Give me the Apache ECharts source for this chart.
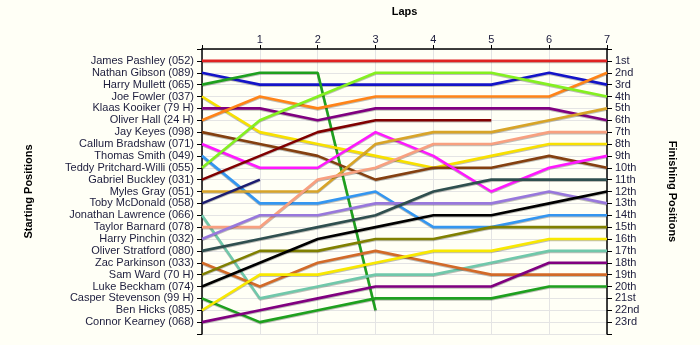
<!DOCTYPE html>
<html>
<head>
<meta charset="utf-8">
<script src="https://cdn.jsdelivr.net/npm/echarts@6/dist/echarts.min.js"></script>
<style>
  html, body { margin: 0; padding: 0; background: #fffff6; }
  #chart { width: 700px; height: 345px; }
</style>
</head>
<body>
<div id="chart"></div>
<script>
// Lap numbers shown along the top axis
const laps = [0, 1, 2, 3, 4, 5, 6, 7];
const lapLabels = ['', '1', '2', '3', '4', '5', '6', '7'];

// Drivers in starting-grid order
const drivers = [
  'James Pashley (052)', 'Nathan Gibson (089)', 'Harry Mullett (065)', 'Joe Fowler (037)',
  'Klaas Kooiker (79 H)', 'Oliver Hall (24 H)', 'Jay Keyes (098)', 'Callum Bradshaw (071)',
  'Thomas Smith (049)', 'Teddy Pritchard-Willi (055)', 'Gabriel Buckley (031)', 'Myles Gray (051)',
  'Toby McDonald (058)', 'Jonathan Lawrence (066)', 'Taylor Barnard (078)', 'Harry Pinchin (032)',
  'Oliver Stratford (080)', 'Zac Parkinson (033)', 'Sam Ward (70 H)', 'Luke Beckham (074)',
  'Casper Stevenson (99 H)', 'Ben Hicks (085)', 'Connor Kearney (068)'
];

// Finishing position labels on the right
const finishLabels = ['1st','2nd','3rd','4th','5th','6th','7th','8th','9th','10th','11th','12th',
  '13th','14th','15th','16th','17th','18th','19th','20th','21st','22nd','23rd'];

// Running position of each driver at the end of every lap (lap 0 = grid)
const pJamesPashley      = [1, 1, 1, 1, 1, 1, 1, 1];
const pNathanGibson      = [2, 3, 3, 3, 3, 3, 2, 3];
const pHarryMullett      = [3, 2, 2, 22];
const pJoeFowler         = [4, 7, 8, 9, 10, 9, 8, 8];
const pKlaasKooiker      = [5, 5, 6, 5, 5, 5, 5, 6];
const pOliverHall        = [6, 4, 5, 4, 4, 4, 4, 2];
const pJayKeyes          = [7, 8, 9, 11, 10, 10, 9, 10];
const pCallumBradshaw    = [8, 10, 10, 7, 9, 12, 10, 9];
const pThomasSmith       = [9, 13, 13, 12, 15, 15, 14, 14];
const pTeddyPritchard    = [10, 6, 4, 2, 2, 2, 3, 4];
const pGabrielBuckley    = [11, 9, 7, 6, 6, 6];
const pMylesGray         = [12, 12, 12, 8, 7, 7, 6, 5];
const pTobyMcDonald      = [13, 11];
const pJonathanLawrence  = [14, 21, 20, 19, 19, 18, 17, 17];
const pTaylorBarnard     = [15, 15, 11, 10, 8, 8, 7, 7];
const pHarryPinchin      = [16, 14, 14, 13, 13, 13, 12, 13];
const pOliverStratford   = [17, 16, 15, 14, 12, 11, 11, 11];
const pZacParkinson      = [18, 20, 18, 17, 18, 19, 19, 19];
const pSamWard           = [19, 17, 17, 16, 16, 15, 15, 15];
const pLukeBeckham       = [20, 18, 16, 15, 14, 14, 13, 12];
const pCasperStevenson   = [21, 23, 22, 21, 21, 21, 20, 20];
const pBenHicks          = [22, 19, 19, 18, 17, 17, 16, 16];
const pConnorKearney     = [23, 22, 21, 20, 20, 20, 18, 18];

const positions = [
  pJamesPashley, pNathanGibson, pHarryMullett, pJoeFowler, pKlaasKooiker, pOliverHall,
  pJayKeyes, pCallumBradshaw, pThomasSmith, pTeddyPritchard, pGabrielBuckley, pMylesGray,
  pTobyMcDonald, pJonathanLawrence, pTaylorBarnard, pHarryPinchin, pOliverStratford,
  pZacParkinson, pSamWard, pLukeBeckham, pCasperStevenson, pBenHicks, pConnorKearney
];

const colors = [
  '#e02222', '#1414c8', '#1ea01e', '#f8e000', '#800080', '#ff8418',
  '#844010', '#ff18ff', '#3496f0', '#84f020', '#800000', '#d8a428',
  '#1c1c70', '#70c8aa', '#f8a080', '#9878dc', '#2f4f4f',
  '#d26a28', '#808000', '#000000', '#1ea01e', '#f8e800', '#800080'
];

const labelColor = '#1c1c3c';
const font = 'Liberation Sans, Arial, sans-serif';

const series = drivers.map((name, i) => ({
  name: name,
  type: 'line',
  yAxisIndex: 0,
  data: positions[i].map((p, lap) => [laps[lap], p]),
  symbol: 'none',
  lineStyle: {
    color: colors[i], width: 2.6,
    shadowColor: 'rgba(0,0,0,0.25)', shadowOffsetY: 1, shadowBlur: 0
  },
  itemStyle: { color: colors[i] },
  silent: true,
  animation: false
}));

const chart = echarts.init(document.getElementById('chart'), null, { renderer: 'canvas' });
chart.setOption({
  backgroundColor: '#fffff6',
  animation: false,
  grid: { left: 202, right: 93, top: 49, bottom: 11, containLabel: false },
  xAxis: {
    type: 'value', position: 'top', min: 0, max: 7, interval: 1,
    name: 'Laps', nameLocation: 'middle', nameGap: 32,
    nameTextStyle: { fontFamily: font, fontSize: 11, fontWeight: 'bold', color: '#000' },
    axisLine: { lineStyle: { color: '#000', width: 1.5 } },
    axisTick: { show: true, length: 4, inside: false, lineStyle: { color: '#000' } },
    axisLabel: {
      margin: 4, fontFamily: font, fontSize: 11, color: labelColor,
      formatter: v => lapLabels[v] || ''
    },
    splitLine: { show: true, lineStyle: { color: '#e4e4e4', width: 1 } }
  },
  yAxis: [
    {
      type: 'value', position: 'left', inverse: true, min: 0, max: 24, interval: 1,
      name: 'Starting Positions', nameLocation: 'middle', nameGap: 168, nameRotate: 90,
      nameTextStyle: { fontFamily: font, fontSize: 11, fontWeight: 'bold', color: '#000' },
      axisLine: { lineStyle: { color: '#000', width: 1.5 } },
      axisTick: { show: true, length: 5, lineStyle: { color: '#000' } },
      axisLabel: {
        margin: 8, fontFamily: font, fontSize: 11, color: labelColor,
        formatter: v => drivers[v - 1] || ''
      },
      splitLine: { show: true, lineStyle: { color: '#e4e4e4', width: 1 } }
    },
    {
      type: 'value', position: 'right', inverse: true, min: 0, max: 24, interval: 1,
      name: 'Finishing Positions', nameLocation: 'middle', nameGap: 60, nameRotate: -90,
      nameTextStyle: { fontFamily: font, fontSize: 11, fontWeight: 'bold', color: '#000' },
      axisLine: { lineStyle: { color: '#000', width: 1.5 } },
      axisTick: { show: true, length: 5, lineStyle: { color: '#000' } },
      axisLabel: {
        margin: 8, fontFamily: font, fontSize: 11, color: labelColor,
        formatter: v => finishLabels[v - 1] || ''
      },
      splitLine: { show: false }
    }
  ],
  series: series
});
</script>
</body>
</html>
